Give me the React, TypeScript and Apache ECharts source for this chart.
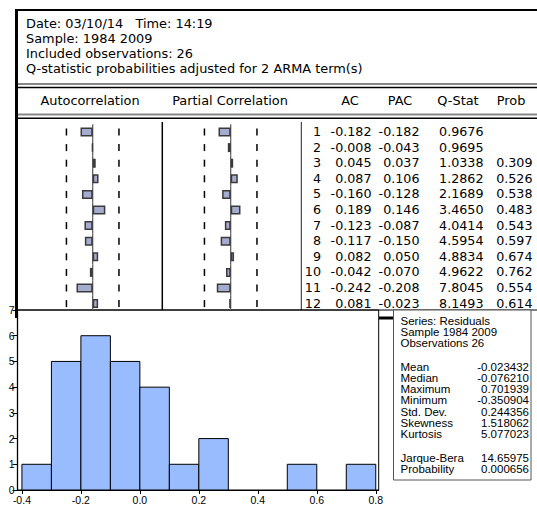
import React, { useEffect, useRef } from "react";
import * as echarts from "echarts";

// ---------- data ----------
const headerLines = [
  "Date: 03/10/14   Time: 14:19",
  "Sample: 1984 2009",
  "Included observations: 26",
  "Q-statistic probabilities adjusted for 2 ARMA term(s)",
];
const lags = [1, 2, 3, 4, 5, 6, 7, 8, 9, 10, 11, 12];
const acValues = [-0.182, -0.008, 0.045, 0.087, -0.16, 0.189, -0.123, -0.117, 0.082, -0.042, -0.242, 0.081];
const pacValues = [-0.182, -0.043, 0.037, 0.106, -0.128, 0.146, -0.087, -0.15, 0.05, -0.07, -0.208, -0.023];
const qStats = ["0.9676", "0.9695", "1.0338", "1.2862", "2.1689", "3.4650", "4.0414", "4.5954", "4.8834", "4.9622", "7.8045", "8.1493"];
const probs = ["", "", "0.309", "0.526", "0.538", "0.483", "0.543", "0.597", "0.674", "0.762", "0.554", "0.614"];
const bandLimit = 0.392;

const binStarts = [-0.4, -0.3, -0.2, -0.1, 0.0, 0.1, 0.2, 0.3, 0.4, 0.5, 0.6, 0.7];
const binEnds = [-0.3, -0.2, -0.1, 0.0, 0.1, 0.2, 0.3, 0.4, 0.5, 0.6, 0.7, 0.8];
const binCounts = [1, 5, 6, 5, 4, 1, 2, 0, 0, 1, 0, 1];
const histXTicks = [-0.4, -0.2, 0.0, 0.2, 0.4, 0.6, 0.8];

const statsHeader = ["Series: Residuals", "Sample 1984 2009", "Observations 26"];
const statNames = ["Mean", "Median", "Maximum", "Minimum", "Std. Dev.", "Skewness", "Kurtosis"];
const statValues = ["-0.023432", "-0.076210", "0.701939", "-0.350904", "0.244356", "1.518062", "5.077023"];
const testNames = ["Jarque-Bera", "Probability"];
const testValues = ["14.65975", "0.000656"];

// ---------- styling / layout ----------
const WIDE = '"DejaVu Sans", sans-serif';
const ARIAL = '"Liberation Sans", Arial, sans-serif';
const topFont = `12.9px ${WIDE}`;
const tableFont = `12.7px ${WIDE}`;
const statFont = `11.5px ${ARIAL}`;
const PANEL_BOTTOM = 310;

function txt(text: string, x: number, y: number, font: string, align = "left", lh?: number): any {
  const style: any = {
    text,
    font,
    fill: "#000",
    textAlign: align,
    textVerticalAlign: "middle",
    align,
    verticalAlign: "middle",
  };
  if (lh) style.lineHeight = lh;
  return { type: "text", x, y, style };
}
function hline(x1: number, x2: number, y: number, color: string, w: number): any {
  return { type: "line", shape: { x1, y1: y, x2, y2: y }, style: { stroke: color, lineWidth: w } };
}
function vline(x: number, y1: number, y2: number, color: string, w: number): any {
  return { type: "line", shape: { x1: x, y1, x2: x, y2 }, style: { stroke: color, lineWidth: w } };
}

export default function App() {
  const ref = useRef<HTMLDivElement>(null);

  useEffect(() => {
    if (!ref.current) return;
    const chart = echarts.init(ref.current, null, { renderer: "svg" });

    const corrTop = 124.2;
    const corrHeight = 187.2;
    const rowHalf = corrHeight / lags.length / 2;

    // zero line and ±2SE dashes, drawn row by row
    const guideSeries = (idx: number) => ({
      type: "custom",
      xAxisIndex: idx,
      yAxisIndex: idx,
      z: 1,
      silent: true,
      data: lags.map((_, i) => [0, i]),
      encode: { x: 0, y: 1 },
      renderItem: (_p: any, api: any) => {
        const i = api.value(1);
        const l = api.coord([-bandLimit, i]);
        const r = api.coord([bandLimit, i]);
        const c = api.coord([0, i]);
        const st = { stroke: "#000", lineWidth: 1.5 };
        return {
          type: "group",
          children: [
            {
              type: "line",
              shape: { x1: c[0], y1: c[1] - rowHalf, x2: c[0], y2: Math.min(c[1] + rowHalf, PANEL_BOTTOM) },
              style: { stroke: "#555", lineWidth: 1.2 },
            },
            { type: "line", shape: { x1: l[0], y1: l[1] - 3.5, x2: l[0], y2: l[1] + 3.5 }, style: st },
            { type: "line", shape: { x1: r[0], y1: r[1] - 3.5, x2: r[0], y2: r[1] + 3.5 }, style: st },
          ],
        };
      },
    });

    const colRight = [321, 371.5, 419.5, 483.5, 532.5];

    const tableSeries = {
      type: "custom",
      xAxisIndex: 0,
      yAxisIndex: 0,
      z: 2,
      silent: true,
      data: lags.map((_, i) => [0, i]),
      encode: { x: 0, y: 1 },
      renderItem: (_p: any, api: any) => {
        const i = api.value(1);
        const y = api.coord([0, i])[1] - 0.5;
        const cells = [
          String(lags[i]),
          acValues[i].toFixed(3),
          pacValues[i].toFixed(3),
          qStats[i],
          probs[i],
        ];
        return {
          type: "group",
          children: cells
            .map((c, k) => ({ c, k }))
            .filter((o) => o.c !== "")
            .map(({ c, k }) => ({
              type: "text",
              x: colRight[k],
              y,
              style: {
                text: c,
                font: tableFont,
                fill: "#000",
                textAlign: "right",
                textVerticalAlign: "middle",
                align: "right",
                verticalAlign: "middle",
              },
            })),
        };
      },
    };

    const barStyle = { color: "#a4add0", borderColor: "#3a3a3a", borderWidth: 1.5 };

    const graphics: any[] = [];
    graphics.push({ type: "rect", shape: { x: 15, y: 9, width: 3, height: 309 }, style: { fill: "#000" } });
    graphics.push({ type: "rect", shape: { x: 15, y: 9, width: 522, height: 2 }, style: { fill: "#000" } });
    graphics.push(hline(18, 537, 84, "#888", 2));
    graphics.push(hline(18, 537, 87.5, "#000", 1.5));
    graphics.push(hline(18, 537, 114.5, "#888", 2));
    graphics.push(hline(18, 537, 118.3, "#000", 1.5));
    graphics.push(vline(162.3, 122, PANEL_BOTTOM, "#000", 1.5));
    graphics.push(vline(301.3, 122, PANEL_BOTTOM, "#222", 1));
    graphics.push({ type: "rect", shape: { x: 379, y: 316.5, width: 14, height: 3 }, style: { fill: "#000" } });
    graphics.push(hline(17, 537, PANEL_BOTTOM, "#000", 1));
    const headerYs = [23.5, 38.3, 53.2, 68];
    headerLines.forEach((t, i) => graphics.push(txt(t, 26, headerYs[i], topFont)));
    graphics.push(txt("Autocorrelation", 90, 100, topFont, "center"));
    graphics.push(txt("Partial Correlation", 230, 100, topFont, "center"));
    graphics.push(txt("AC", 350, 100, topFont, "center"));
    graphics.push(txt("PAC", 400, 100, topFont, "center"));
    graphics.push(txt("Q-Stat", 458, 100, topFont, "center"));
    graphics.push(txt("Prob", 511, 100, topFont, "center"));
    graphics.push({
      type: "rect",
      shape: { x: 393.5, y: 310, width: 137.5, height: 170 },
      style: { fill: "#fff", stroke: "#555", lineWidth: 1 },
    });
    statsHeader.forEach((t, i) => graphics.push(txt(t, 400.5, 320.7 + i * 11.1, statFont, "left", 10.5)));
    statNames.forEach((t, i) => {
      graphics.push(txt(t, 400.5, 366.7 + i * 11.2, statFont, "left", 10.5));
      graphics.push(txt(statValues[i], 529, 366.7 + i * 11.2, statFont, "right", 10.5));
    });
    testNames.forEach((t, i) => {
      graphics.push(txt(t, 400.5, 458 + i * 11.3, statFont, "left", 10.5));
      graphics.push(txt(testValues[i], 529, 458 + i * 11.3, statFont, "right", 10.5));
    });

    const option: any = {
      animation: false,
      backgroundColor: "#fff",
      grid: [
        { left: 25.7, top: corrTop, width: 134, height: corrHeight, show: false },
        { left: 163.7, top: corrTop, width: 134, height: corrHeight, show: false },
        {
          left: 17.5,
          top: 310,
          width: 361.2,
          height: 182,
          show: true,
          backgroundColor: "transparent",
          borderColor: "#000",
          borderWidth: 1,
        },
      ],
      xAxis: [
        { gridIndex: 0, type: "value", min: -1, max: 1, show: false },
        { gridIndex: 1, type: "value", min: -1, max: 1, show: false },
        {
          gridIndex: 2,
          type: "value",
          min: -0.415,
          max: 0.81,
          splitLine: { show: false },
          axisLine: { show: true, onZero: false, lineStyle: { color: "#000", width: 1 } },
          axisTick: { show: true, length: 4, customValues: histXTicks, lineStyle: { color: "#000" } },
          axisLabel: {
            show: true,
            customValues: histXTicks,
            margin: 4,
            color: "#000",
            fontSize: 10.5,
            fontFamily: ARIAL,
            formatter: (v: number) => v.toFixed(1),
          },
        },
      ],
      yAxis: [
        { gridIndex: 0, type: "category", data: lags.map(String), inverse: true, show: false },
        { gridIndex: 1, type: "category", data: lags.map(String), inverse: true, show: false },
        {
          gridIndex: 2,
          type: "value",
          min: 0,
          max: 7,
          interval: 1,
          splitLine: { show: false },
          axisLine: { show: true, onZero: false, lineStyle: { color: "#000", width: 1.3 } },
          axisTick: { show: true, length: 5, lineStyle: { color: "#000" } },
          axisLabel: { show: true, margin: 3, color: "#000", fontSize: 10.5, fontFamily: ARIAL },
        },
      ],
      series: [
        { type: "bar", xAxisIndex: 0, yAxisIndex: 0, data: acValues, barWidth: 9, z: 2, itemStyle: barStyle, silent: true },
        { type: "bar", xAxisIndex: 1, yAxisIndex: 1, data: pacValues, barWidth: 9, z: 2, itemStyle: barStyle, silent: true },
        guideSeries(0),
        guideSeries(1),
        tableSeries,
        {
          type: "custom",
          xAxisIndex: 2,
          yAxisIndex: 2,
          z: 3,
          silent: true,
          data: binStarts.map((s, i) => [s, binEnds[i], binCounts[i]]),
          encode: { x: [0, 1], y: 2 },
          renderItem: (_p: any, api: any) => {
            const c = api.value(2);
            if (!c) return null;
            const p0 = api.coord([api.value(0), 0]);
            const p1 = api.coord([api.value(1), c]);
            return {
              type: "rect",
              shape: { x: p0[0], y: p1[1], width: p1[0] - p0[0], height: p0[1] - p1[1] },
              style: { fill: "#99bbff", stroke: "#000", lineWidth: 1 },
            };
          },
        },
      ],
      graphic: { elements: graphics },
    };

    chart.setOption(option);
    return () => chart.dispose();
  }, []);

  return (
    <div
      ref={ref}
      style={{ position: "fixed", left: 0, top: 0, width: 537, height: 505, background: "#fff" }}
    />
  );
}
